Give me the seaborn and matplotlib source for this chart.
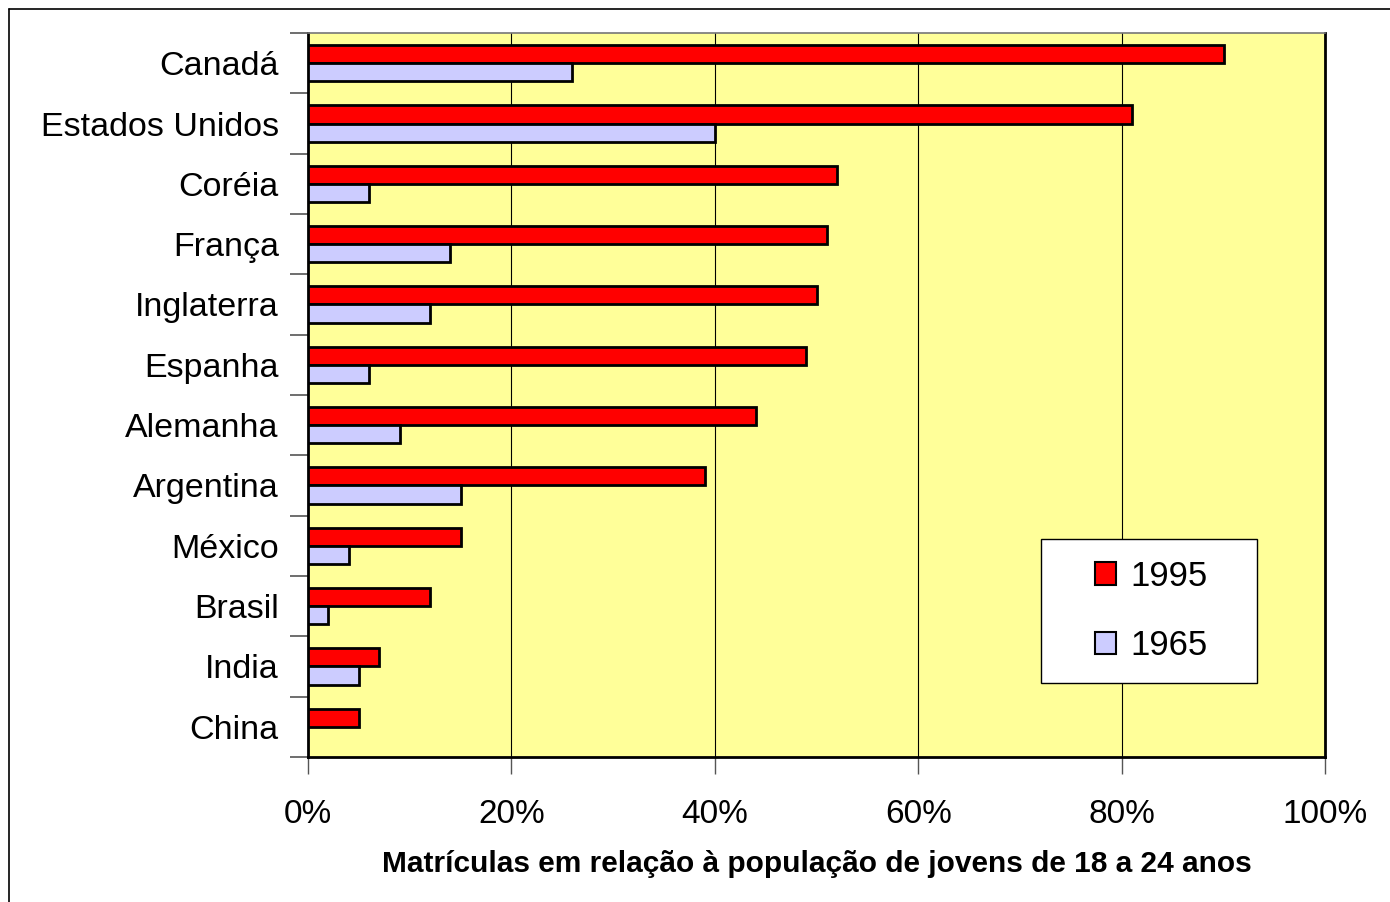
import numpy as np
import pandas as pd
import matplotlib.pyplot as plt
from matplotlib.lines import Line2D
from matplotlib.patches import Patch, Rectangle
from matplotlib.ticker import FixedLocator, PercentFormatter
import seaborn as sns

# --- data (percent of 18-24 population enrolled) ---
paises = ['Canadá', 'Estados Unidos', 'Coréia', 'França', 'Inglaterra', 'Espanha',
          'Alemanha', 'Argentina', 'México', 'Brasil', 'India', 'China']
v1995 = [90, 81, 52, 51, 50, 49, 44, 39, 15, 12, 7, 5]
v1965 = [26, 40, 6, 14, 12, 6, 9, 15, 4, 2, 5, 0]
anos = ['1995', '1965']
cores = ['#ff0000', '#ccccff']

df = pd.DataFrame({
    'pais': paises * 2,
    'ano': [anos[0]] * len(paises) + [anos[1]] * len(paises),
    'valor': v1995 + v1965,
})

sns.set_style('white')
plt.rcParams['font.family'] = ['Liberation Sans', 'DejaVu Sans']
plt.rcParams['text.color'] = 'black'
plt.rcParams['axes.labelcolor'] = 'black'
plt.rcParams['xtick.labelcolor'] = 'black'
plt.rcParams['ytick.labelcolor'] = 'black'

fig = plt.figure(figsize=(13.9, 9.02), dpi=100)
ax = fig.add_axes([0.2216, 0.1608, 0.7318, 0.8026])
ax.set_facecolor('#ffff99')

sns.barplot(data=df, x='valor', y='pais', hue='ano', order=paises,
            hue_order=anos, palette=cores, saturation=1, width=0.6, orient='y',
            edgecolor='black', linewidth=2, ax=ax, zorder=3, legend=False)

# China has no 1965 bar: hide zero-width rectangles
for p in ax.patches:
    if p.get_width() == 0:
        p.set_visible(False)

ax.set_xlim(0, 100)
ax.set_ylim(len(paises) - 0.5, -0.5)
ax.xaxis.set_major_locator(FixedLocator(np.arange(0, 101, 20)))
ax.xaxis.set_major_formatter(PercentFormatter(decimals=0))
ax.grid(axis='x', color='black', linewidth=0.8, zorder=0)
ax.set_axisbelow(True)

# tick marks between categories, labels at centres
ax.set_yticks(np.arange(len(paises)))
ax.set_yticklabels(paises)
ax.set_yticks(np.arange(-0.5, len(paises)), minor=True)
ax.tick_params(axis='y', which='major', length=0, pad=21, labelsize=24.5)
ax.tick_params(axis='y', which='minor', length=13, width=1.2, color='#555555', left=True)
ax.tick_params(axis='x', which='major', length=12, width=1, color='#555555',
               bottom=True, pad=18, labelsize=24)

for s in ax.spines.values():
    s.set_color('black')
    s.set_linewidth(2)
ax.spines['top'].set_color('#777777')
ax.spines['top'].set_linewidth(1.2)

ax.set_ylabel('')
ax.set_xlabel('Matrículas em relação à população de jovens de 18 a 24 anos',
              fontsize=21.5, fontweight='bold', labelpad=15)

# legend: white box with two square swatches
box = Rectangle((0.721, 0.102), 0.212, 0.199, transform=ax.transAxes,
                facecolor='white', edgecolor='black', linewidth=1, zorder=5)
ax.add_patch(box)
handles = [Patch(facecolor=c, edgecolor='black', linewidth=1.5) for c in cores]
leg = ax.legend(handles, anos, loc='center', bbox_to_anchor=(0.829, 0.2015),
                fontsize=25, frameon=False, handlelength=0.62, handleheight=0.62,
                handletextpad=0.42, labelspacing=1.05, borderpad=0)
leg.set_zorder(6)

# figure border (top and left edges visible)
fig.add_artist(Line2D([9 / 1390, 1], [1 - 9 / 902, 1 - 9 / 902], color='black',
                      linewidth=1.2, transform=fig.transFigure))
fig.add_artist(Line2D([9 / 1390, 9 / 1390], [0, 1 - 9 / 902], color='black',
                      linewidth=1.2, transform=fig.transFigure))

fig.savefig('out.png', dpi=100)
